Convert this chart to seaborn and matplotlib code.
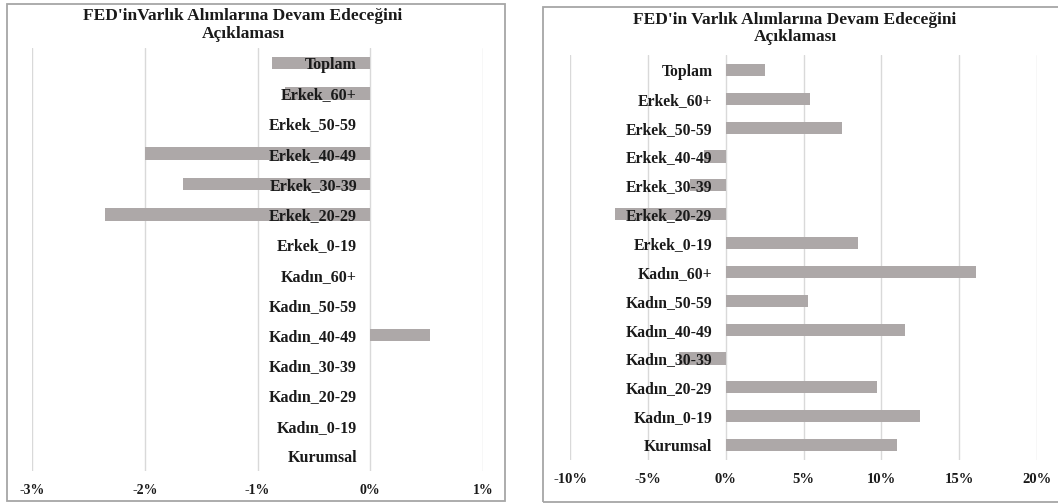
import matplotlib
matplotlib.use("Agg")
import matplotlib.pyplot as plt
from matplotlib.patches import Rectangle
from matplotlib.ticker import FuncFormatter, MultipleLocator
import seaborn as sns

# ---- data ----
categories = ["Toplam", "Erkek_60+", "Erkek_50-59", "Erkek_40-49", "Erkek_30-39",
              "Erkek_20-29", "Erkek_0-19", "Kadın_60+", "Kadın_50-59", "Kadın_40-49",
              "Kadın_30-39", "Kadın_20-29", "Kadın_0-19", "Kurumsal"]
left_values = [-0.87, -0.76, 0.0, -2.0, -1.66, -2.35, 0.0, 0.0, 0.0, 0.53, 0.0, 0.0, 0.0, 0.0]
right_values = [2.5, 5.4, 7.5, -1.4, -2.3, -7.1, 8.5, 16.1, 5.3, 11.5, -3.0, 9.7, 12.5, 11.0]
left_title = "FED'inVarlık Alımlarına Devam Edeceğini\nAçıklaması"
right_title = "FED'in Varlık Alımlarına Devam Edeceğini\nAçıklaması"

sns.set_style("whitegrid")
plt.rcParams["font.family"] = ["Liberation Serif", "DejaVu Serif"]
plt.rcParams["font.weight"] = "bold"

W, H = 1058, 504
fig = plt.figure(figsize=(W / 100, H / 100), dpi=100)
fig.patch.set_facecolor("white")

BAR = "#ada8a8"
GRID = "#d9d9d9"
TXT = "#1a1a1a"


def px_axes(x0, y0, x1, y1):
    return fig.add_axes([x0 / W, (H - y1) / H, (x1 - x0) / W, (y1 - y0) / H])


def frame(x0, y0, x1, y1):
    fig.patches.append(Rectangle((x0 / W, (H - y1) / H), (x1 - x0) / W, (y1 - y0) / H,
                                 transform=fig.transFigure, fill=False,
                                 edgecolor="#a6a6a6", linewidth=1.3))


def style(ax, vals, lo, hi, step, tick_pad, label_size, tick_size):
    sns.barplot(x=vals, y=categories, orient="h", color=BAR, saturation=1,
                width=0.42, ax=ax, linewidth=0)
    ax.set_xlim(lo, hi)
    ax.xaxis.set_major_locator(MultipleLocator(step))
    ax.xaxis.set_major_formatter(FuncFormatter(lambda v, p: f"{v:.0f}%"))
    ax.set_xlabel("")
    ax.set_ylabel("")
    ax.grid(axis="x", color=GRID, linewidth=1.0)
    ax.grid(axis="y", visible=False)
    for s in ax.spines.values():
        s.set_visible(False)
    ax.spines["left"].set_position(("data", 0))
    ax.set_axisbelow(True)
    ax.yaxis.set_zorder(5)
    ax.tick_params(axis="y", length=0, pad=9.5, labelsize=label_size, labelcolor=TXT)
    ax.tick_params(axis="x", length=0, pad=tick_pad, labelsize=tick_size, labelcolor=TXT)
    for t in ax.get_yticklabels() + ax.get_xticklabels():
        t.set_fontweight("bold")
    ax.set_facecolor("none")


# frames
frame(7, 4, 505, 501)
frame(543, 7, 1070, 502)

axL = px_axes(32, 48, 483, 471)
style(axL, left_values, -3, 1, 1, 9, 11.5, 10)

axR = px_axes(570, 55.5, 1037, 459.5)
style(axR, right_values, -10, 20, 5, 10, 11.3, 10.5)

fig.text(243 / W, 1 - 8 / H, left_title, ha="center", va="top", fontsize=12.5,
         fontweight="bold", color=TXT, linespacing=1.15)
fig.text(795 / W, 1 - 12 / H, right_title, ha="center", va="top", fontsize=12.5,
         fontweight="bold", color=TXT, linespacing=1.1)

fig.savefig("out.png", dpi=100, facecolor="white")
